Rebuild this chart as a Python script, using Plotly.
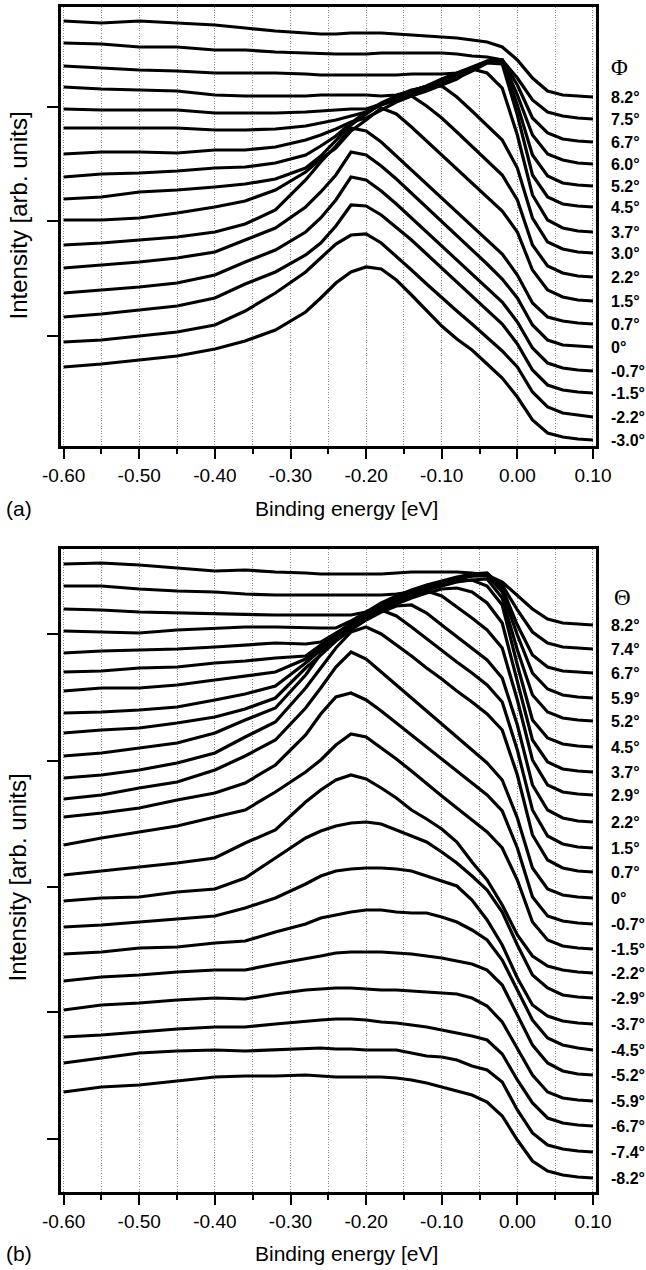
import plotly.graph_objects as go

# ---------------- data ----------------
energy = [-0.60, -0.55, -0.50, -0.45, -0.40, -0.36, -0.32, -0.28, -0.26, -0.24, -0.22, -0.20,
          -0.18, -0.16, -0.14, -0.12, -0.10, -0.08, -0.06, -0.04, -0.02, 0.00, 0.02, 0.04,
          0.06, 0.08, 0.10]

x_tick_vals = [-0.6, -0.5, -0.4, -0.3, -0.2, -0.1, 0.0, 0.1]
x_tick_text = ["-0.60", "-0.50", "-0.40", "-0.30", "-0.20", "-0.10", "0.00", "0.10"]
phi_y_ticks = [114, 229, 343]
theta_y_ticks = [61, 188, 313, 439, 566]

phi_labels = ["8.2°", "7.5°", "6.7°", "6.0°", "5.2°", "4.5°", "3.7°", "3.0°", "2.2°", "1.5°",
              "0.7°", "0°", "-0.7°", "-1.5°", "-2.2°", "-3.0°"]
theta_labels = ["8.2°", "7.4°", "6.7°", "5.9°", "5.2°", "4.5°", "3.7°", "2.9°", "2.2°", "1.5°",
                "0.7°", "0°", "-0.7°", "-1.5°", "-2.2°", "-2.9°", "-3.7°", "-4.5°", "-5.2°",
                "-5.9°", "-6.7°", "-7.4°", "-8.2°"]

# panel (a): EDCs vs Phi (intensity, arb. units, stacked)
phi_p8_2 = [429, 427, 429, 427, 425, 422, 419, 417, 416, 416, 417, 417, 417, 416, 415, 414, 413, 412, 410, 408, 403, 390, 372, 359, 355, 354, 353]
phi_p7_5 = [407, 406, 403, 403, 400, 400, 398, 397, 396, 396, 396, 396, 397, 397, 397, 397, 397, 396, 394, 393, 390, 372, 350, 338, 334, 332, 331]
phi_p6_7 = [384, 382, 380, 379, 377, 377, 377, 376, 375, 375, 375, 375, 375, 375, 376, 376, 376, 377, 382, 389, 390, 365, 332, 317, 311, 309, 308]
phi_p6_0 = [363, 361, 360, 359, 355, 354, 354, 354, 355, 355, 355, 355, 354, 355, 359, 364, 371, 377, 383, 389, 390, 355, 315, 296, 290, 287, 286]
phi_p5_2 = [341, 340, 340, 340, 337, 337, 337, 338, 339, 340, 341, 341, 346, 353, 359, 364, 370, 375, 382, 388, 389, 345, 295, 274, 267, 265, 264]
phi_p4_5 = [322, 322, 322, 322, 320, 320, 321, 324, 327, 330, 334, 338, 345, 350, 356, 361, 367, 372, 379, 387, 386, 335, 275, 253, 246, 244, 243]
phi_p3_7 = [296, 298, 298, 297, 300, 300, 303, 310, 315, 321, 328, 332, 340, 348, 354, 359, 365, 371, 381, 377, 362, 315, 255, 230, 222, 219, 218]
phi_p3_0 = [273, 276, 277, 279, 282, 283, 287, 295, 304, 314, 327, 338, 347, 354, 360, 363, 364, 353, 339, 325, 310, 282, 232, 208, 201, 198, 197]
phi_p2_2 = [251, 253, 258, 260, 263, 266, 271, 282, 294, 309, 325, 336, 346, 352, 354, 344, 332, 318, 304, 290, 275, 250, 205, 184, 177, 174, 173]
phi_p1_5 = [230, 230, 232, 237, 243, 249, 260, 278, 291, 302, 319, 330, 342, 336, 323, 309, 295, 281, 267, 253, 239, 218, 180, 160, 153, 150, 149]
phi_p0_7 = [205, 207, 210, 213, 218, 226, 240, 270, 288, 304, 322, 319, 308, 294, 280, 266, 252, 238, 224, 210, 196, 175, 147, 133, 129, 127, 126]
phi_0_0 = [182, 185, 188, 192, 198, 210, 222, 243, 258, 275, 298, 295, 284, 271, 257, 242, 228, 214, 200, 186, 171, 152, 125, 110, 105, 104, 103]
phi_m0_7 = [157, 160, 163, 167, 175, 188, 200, 218, 232, 250, 273, 270, 259, 246, 232, 218, 204, 190, 176, 162, 148, 128, 102, 87, 82, 80, 79]
phi_m1_5 = [133, 136, 140, 144, 152, 166, 178, 195, 207, 224, 245, 244, 235, 223, 210, 196, 182, 168, 154, 140, 126, 106, 80, 65, 60, 58, 57]
phi_m2_2 = [108, 110, 114, 118, 125, 139, 157, 178, 192, 206, 215, 216, 207, 194, 180, 166, 152, 139, 126, 113, 99, 83, 58, 43, 37, 35, 33]
phi_m3_0 = [83, 86, 90, 94, 101, 109, 120, 138, 152, 167, 178, 183, 181, 170, 155, 140, 124, 111, 100, 86, 72, 53, 30, 17, 13, 11, 10]

# panel (b): EDCs vs Theta
theta_p8_2 = [636, 637, 635, 632, 629, 630, 628, 627, 626, 626, 626, 626, 626, 627, 628, 628, 628, 628, 627, 625, 618, 605, 591, 581, 577, 576, 575]
theta_p7_4 = [614, 614, 611, 609, 608, 606, 605, 605, 605, 605, 605, 605, 605, 606, 608, 612, 617, 621, 624, 624, 615, 590, 568, 557, 553, 552, 551]
theta_p6_7 = [591, 590, 588, 587, 586, 585, 585, 585, 585, 585, 585, 588, 597, 604, 610, 615, 619, 623, 626, 627, 612, 575, 545, 533, 529, 528, 527]
theta_p5_9 = [569, 568, 567, 570, 572, 573, 573, 572, 572, 572, 579, 588, 595, 602, 608, 613, 617, 621, 624, 625, 608, 565, 527, 511, 505, 503, 502]
theta_p5_2 = [547, 549, 550, 551, 553, 555, 557, 556, 558, 567, 576, 585, 592, 599, 605, 610, 614, 618, 620, 621, 602, 550, 505, 488, 482, 480, 479]
theta_p4_5 = [528, 529, 532, 533, 537, 539, 542, 544, 555, 566, 577, 586, 593, 600, 606, 611, 615, 619, 620, 614, 595, 535, 480, 462, 456, 454, 453]
theta_p3_7 = [509, 512, 512, 515, 520, 524, 528, 541, 553, 562, 573, 582, 589, 596, 602, 607, 611, 612, 608, 597, 577, 520, 460, 438, 431, 429, 428]
theta_p2_9 = [487, 488, 490, 493, 500, 506, 514, 537, 550, 565, 576, 586, 593, 600, 605, 609, 604, 593, 582, 570, 552, 500, 440, 415, 408, 406, 405]
theta_p2_2 = [467, 470, 472, 477, 483, 491, 502, 532, 545, 559, 570, 580, 588, 594, 595, 587, 575, 563, 552, 540, 522, 475, 415, 390, 382, 379, 378]
theta_p1_5 = [444, 447, 452, 457, 467, 480, 492, 525, 546, 562, 574, 584, 590, 584, 573, 561, 550, 538, 527, 515, 498, 450, 390, 364, 356, 353, 352]
theta_p0_7 = [422, 425, 430, 437, 447, 463, 478, 512, 532, 552, 568, 573, 566, 555, 544, 532, 521, 509, 498, 486, 470, 425, 365, 340, 332, 329, 328]
theta_0_0 = [401, 405, 412, 418, 430, 444, 460, 492, 512, 533, 548, 541, 528, 515, 502, 489, 476, 463, 450, 437, 420, 382, 332, 311, 305, 303, 302]
theta_m0_7 = [383, 387, 392, 400, 407, 417, 435, 465, 486, 503, 507, 500, 489, 477, 465, 453, 441, 429, 417, 405, 389, 352, 303, 284, 279, 277, 276]
theta_m1_5 = [355, 362, 368, 374, 383, 390, 408, 428, 440, 455, 466, 463, 452, 441, 429, 416, 404, 392, 380, 368, 352, 320, 278, 260, 254, 252, 251]
theta_m2_2 = [325, 329, 333, 337, 342, 357, 370, 398, 410, 420, 425, 421, 412, 402, 390, 381, 371, 358, 338, 320, 295, 265, 244, 234, 230, 228, 227]
theta_m2_9 = [299, 302, 303, 308, 311, 322, 342, 362, 369, 374, 377, 378, 376, 370, 364, 358, 348, 337, 324, 310, 288, 255, 225, 212, 205, 203, 202]
theta_m3_7 = [273, 275, 278, 281, 284, 292, 302, 316, 324, 329, 331, 332, 332, 331, 329, 324, 319, 314, 300, 280, 255, 222, 195, 184, 179, 177, 176]
theta_m4_5 = [246, 248, 252, 253, 257, 259, 268, 276, 282, 285, 288, 290, 290, 288, 287, 287, 283, 278, 270, 260, 240, 210, 180, 162, 155, 152, 150]
theta_m5_2 = [219, 223, 225, 228, 230, 230, 236, 241, 244, 247, 248, 248, 248, 247, 246, 244, 242, 239, 236, 230, 215, 185, 155, 137, 129, 126, 125]
theta_m5_9 = [190, 195, 197, 200, 202, 201, 206, 210, 211, 212, 212, 211, 210, 210, 209, 208, 207, 206, 202, 194, 178, 152, 125, 108, 102, 100, 99]
theta_m6_7 = [163, 165, 168, 171, 173, 173, 176, 179, 180, 181, 181, 180, 178, 177, 175, 173, 170, 167, 164, 160, 146, 120, 97, 82, 77, 75, 74]
theta_m7_4 = [137, 142, 147, 149, 150, 149, 150, 151, 152, 151, 151, 150, 150, 150, 147, 144, 143, 140, 134, 130, 118, 90, 67, 55, 51, 49, 48]
theta_m8_2 = [108, 113, 115, 119, 123, 124, 124, 125, 124, 123, 123, 123, 123, 122, 120, 117, 113, 109, 105, 98, 84, 60, 39, 29, 25, 23, 22]

phi_series = [phi_p8_2, phi_p7_5, phi_p6_7, phi_p6_0, phi_p5_2, phi_p4_5, phi_p3_7, phi_p3_0,
              phi_p2_2, phi_p1_5, phi_p0_7, phi_0_0, phi_m0_7, phi_m1_5, phi_m2_2, phi_m3_0]
theta_series = [theta_p8_2, theta_p7_4, theta_p6_7, theta_p5_9, theta_p5_2, theta_p4_5, theta_p3_7,
                theta_p2_9, theta_p2_2, theta_p1_5, theta_p0_7, theta_0_0, theta_m0_7, theta_m1_5,
                theta_m2_2, theta_m2_9, theta_m3_7, theta_m4_5, theta_m5_2, theta_m5_9, theta_m6_7,
                theta_m7_4, theta_m8_2]

# ---------------- figure ----------------
W, H = 646, 1270
SANS = "Liberation Sans, Arial, Helvetica, sans-serif"
SERIF = "Liberation Serif, Times New Roman, serif"
GRID = "#8c8c8c"
GDASH = "1px,1.6px"

fig = go.Figure()
for s in phi_series:
    fig.add_trace(go.Scatter(x=energy, y=s, mode="lines", xaxis="x", yaxis="y",
                             line=dict(color="black", width=3.2), hoverinfo="skip"))
for s in theta_series:
    fig.add_trace(go.Scatter(x=energy, y=s, mode="lines", xaxis="x2", yaxis="y2",
                             line=dict(color="black", width=3.2), hoverinfo="skip"))

def xax(anchor):
    return dict(
        domain=[61 / W, 596 / W], range=[-0.6035, 0.1040], anchor=anchor,
        tickmode="array", tickvals=x_tick_vals, ticktext=x_tick_text,
        ticks="outside", ticklen=10, tickwidth=2, tickcolor="black",
        tickfont=dict(family=SANS, size=19, color="black"),
        showline=True, mirror=True, linewidth=3, linecolor="black",
        showgrid=True, gridcolor=GRID, gridwidth=1, griddash=GDASH,
        zeroline=False,
        minor=dict(tickmode="linear", tick0=-0.6, dtick=0.05, ticks="outside", ticklen=5,
                   tickwidth=2, tickcolor="black", showgrid=True, gridcolor=GRID,
                   gridwidth=1, griddash=GDASH),
    )

def yax(anchor, dom, rng, tv):
    return dict(
        domain=dom, range=rng, anchor=anchor,
        tickmode="array", tickvals=tv, showticklabels=False,
        ticks="outside", ticklen=11, tickwidth=2, tickcolor="black",
        showline=True, mirror=True, linewidth=3, linecolor="black",
        showgrid=False, zeroline=False,
    )

fig.update_layout(
    width=W, height=H,
    margin=dict(l=0, r=0, t=0, b=0, autoexpand=False),
    paper_bgcolor="white", plot_bgcolor="white",
    showlegend=False,
    xaxis=xax("y"),
    yaxis=yax("x", [1 - 446 / H, 1 - 7 / H], [4, 443], phi_y_ticks),
    xaxis2=xax("y2"),
    yaxis2=yax("x2", [1 - 1192 / H, 1 - 549 / H], [8, 651], theta_y_ticks),
)

LABEL_FONT = dict(family=SANS, size=16, color="black", weight="bold")
ann = []
for lab, s in zip(phi_labels, phi_series):
    ann.append(dict(x=609 / W, xref="paper", y=s[-1], yref="y", text=lab, showarrow=False,
                    xanchor="left", yanchor="middle", font=LABEL_FONT))
for lab, s in zip(theta_labels, theta_series):
    ann.append(dict(x=609 / W, xref="paper", y=s[-1], yref="y2", text=lab, showarrow=False,
                    xanchor="left", yanchor="middle", font=LABEL_FONT))

ann += [
    dict(x=619 / W, y=1 - 68 / H, xref="paper", yref="paper", text="Φ", showarrow=False,
         xanchor="center", yanchor="middle", font=dict(family=SERIF, size=23, color="black")),
    dict(x=622 / W, y=1 - 597 / H, xref="paper", yref="paper", text="Θ", showarrow=False,
         xanchor="center", yanchor="middle", font=dict(family=SERIF, size=23, color="black")),
    dict(x=4 / W, y=1 - 508 / H, xref="paper", yref="paper", text="(a)", showarrow=False,
         xanchor="left", yanchor="middle", font=dict(family=SANS, size=21, color="black")),
    dict(x=4 / W, y=1 - 1253 / H, xref="paper", yref="paper", text="(b)", showarrow=False,
         xanchor="left", yanchor="middle", font=dict(family=SANS, size=21, color="black")),
    dict(x=346 / W, y=1 - 508 / H, xref="paper", yref="paper", text="Binding energy [eV]",
         showarrow=False, xanchor="center", yanchor="middle",
         font=dict(family=SANS, size=21, color="black")),
    dict(x=346 / W, y=1 - 1253 / H, xref="paper", yref="paper", text="Binding energy [eV]",
         showarrow=False, xanchor="center", yanchor="middle",
         font=dict(family=SANS, size=21, color="black")),
    dict(x=17.5 / W, y=1 - 216 / H, xref="paper", yref="paper", text="Intensity [arb. units]",
         textangle=-90, showarrow=False, xanchor="center", yanchor="middle",
         font=dict(family=SANS, size=24, color="black")),
    dict(x=17.5 / W, y=1 - 878 / H, xref="paper", yref="paper", text="Intensity [arb. units]",
         textangle=-90, showarrow=False, xanchor="center", yanchor="middle",
         font=dict(family=SANS, size=24, color="black")),
]
fig.update_layout(annotations=ann)

fig.write_html("out.html")
